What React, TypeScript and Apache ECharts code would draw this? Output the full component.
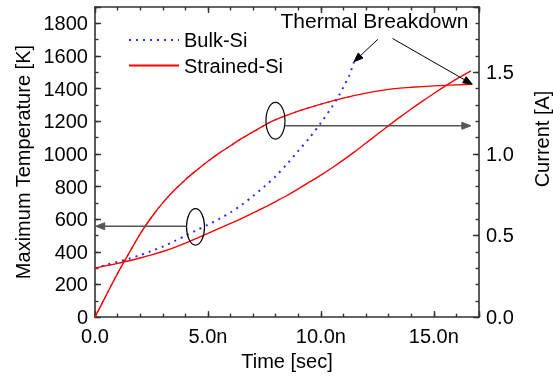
import React, { useEffect, useRef } from 'react';
import * as echarts from 'echarts';

// ---- axes ----
const timeMax = 17; // ns
const tempMax = 1900; // K
const currentMax = 1.9; // A
const xTickValues = [0, 5, 10, 15];
const xTickLabels = ['0.0', '5.0n', '10.0n', '15.0n'];
const tempTickValues = [0, 200, 400, 600, 800, 1000, 1200, 1400, 1600, 1800];
const currentTickValues = [0, 0.5, 1.0, 1.5];
const currentTickLabels = ['0.0', '0.5', '1.0', '1.5'];

// ---- data (time in ns) ----
const bulkTempTime = [0, 0.5, 1.0, 1.5, 2.0, 2.5, 3.0, 3.5, 4.0, 4.5, 5.0, 5.5, 6.0, 6.5, 7.0, 7.5, 8.0, 8.5, 9.0, 9.5, 10.0, 10.5, 10.8, 11.0, 11.25, 11.47];
const bulkTemp = [300, 320, 338, 358, 380, 405, 432, 464, 498, 532, 566, 602, 641, 688, 742, 800, 864, 938, 1018, 1099, 1190, 1290, 1358, 1410, 1480, 1565];

const strainedTempTime = [0, 0.25, 0.5, 1.0, 1.5, 2.0, 2.5, 3.0, 3.5, 4.0, 4.5, 5.0, 5.5, 6.0, 6.5, 7.0, 7.5, 8.0, 8.5, 9.0, 9.5, 10.0, 10.5, 11.0, 11.5, 12.0, 12.5, 13.0, 13.5, 14.0, 14.5, 15.0, 15.5, 16.0, 16.64];
const strainedTemp = [298, 308, 315, 329, 345, 362, 381, 402, 426, 453, 483, 513, 544, 574, 605, 638, 672, 708, 745, 786, 828, 870, 915, 963, 1014, 1067, 1120, 1173, 1225, 1275, 1323, 1370, 1415, 1458, 1509];

const strainedCurrentTime = [0, 0.5, 1.0, 1.5, 2.0, 2.5, 3.0, 3.5, 4.0, 4.5, 5.0, 5.5, 6.0, 6.5, 7.0, 7.5, 8.0, 9.0, 10.0, 11.0, 12.0, 13.0, 14.0, 15.0, 16.7];
const strainedCurrent = [0, 0.135, 0.268, 0.39, 0.51, 0.612, 0.7, 0.775, 0.842, 0.9, 0.955, 1.005, 1.05, 1.095, 1.135, 1.175, 1.21, 1.262, 1.305, 1.342, 1.372, 1.395, 1.408, 1.417, 1.427];

const bulkCurrentTime = [0, 0.5, 1.0, 1.5, 2.0, 2.5, 3.0, 3.5, 4.0, 4.5, 5.0, 5.5, 6.0, 6.5, 7.0, 7.5, 8.0, 9.0, 10.0, 11.0, 11.4];
const bulkCurrent = [0, 0.135, 0.268, 0.39, 0.51, 0.612, 0.7, 0.775, 0.842, 0.9, 0.955, 1.005, 1.05, 1.095, 1.135, 1.175, 1.21, 1.262, 1.305, 1.342, 1.355];

const FONT = "'Liberation Sans', Arial, Helvetica, sans-serif";
const AXIS = '#333333';
const BLUE = '#2a2aff';
const RED = '#ff0000';

const pairs = (xs: number[], ys: number[]) => xs.map((x, i) => [x, ys[i]]);
const near = (a: number, b: number) => Math.abs(a - b) < 1e-6;

function axisBase(min: number, max: number, interval: number, position: string, tickLen: number, showLine: boolean) {
  return {
    type: 'value',
    min,
    max,
    interval,
    position,
    axisLine: { show: showLine, onZero: false, lineStyle: { color: AXIS, width: 1.6 } },
    axisTick: { show: true, inside: true, length: tickLen, lineStyle: { color: AXIS, width: 1.4 } },
    axisLabel: { show: false },
    splitLine: { show: false },
  } as any;
}

export default function App() {
  const ref = useRef<HTMLDivElement>(null);
  useEffect(() => {
    if (!ref.current) return;
    const chart = echarts.init(ref.current, undefined, { renderer: 'svg' });
    const labelStyle = { fontSize: 20, color: '#000', fontFamily: FONT };

    const xMajor = axisBase(0, timeMax, 5, 'bottom', 6, true);
    xMajor.axisLabel = {
      show: true,
      ...labelStyle,
      margin: 9,
      formatter: (v: number) => {
        const i = xTickValues.findIndex((t) => near(t, v));
        return i >= 0 ? xTickLabels[i] : '';
      },
    };
    xMajor.name = 'Time [sec]';
    xMajor.nameLocation = 'middle';
    xMajor.nameGap = 31;
    xMajor.nameTextStyle = { ...labelStyle };

    const yLeft = axisBase(0, tempMax, 200, 'left', 6, true);
    yLeft.axisLabel = {
      show: true,
      ...labelStyle,
      margin: 7,
      formatter: (v: number) => (tempTickValues.some((t) => near(t, v)) ? String(v) : ''),
    };
    yLeft.name = 'Maximum Temperature [K]';
    yLeft.nameLocation = 'middle';
    yLeft.nameGap = 62;
    yLeft.nameTextStyle = { ...labelStyle };

    const yRight = axisBase(0, currentMax, 0.5, 'right', 6, true);
    yRight.axisLabel = {
      show: true,
      ...labelStyle,
      margin: 7,
      formatter: (v: number) => {
        const i = currentTickValues.findIndex((t) => near(t, v));
        return i >= 0 ? currentTickLabels[i] : '';
      },
    };

    const lineSeries = (name: string, yIdx: number, data: number[][], color: string, dotted: boolean, width: number) => ({
      name,
      type: 'line',
      xAxisIndex: 0,
      yAxisIndex: yIdx,
      data,
      showSymbol: false,
      symbol: 'none',
      smooth: 0.3,
      lineStyle: dotted ? { color, width, type: [2, 5] } : { color, width },
      itemStyle: { color },
    });

    const option: any = {
      animation: false,
      grid: { left: 95, right: 74, top: 7, bottom: 57 },
      legend: {
        left: 123,
        top: 25,
        orient: 'vertical',
        itemWidth: 50,
        itemHeight: 14,
        itemGap: 5.5,
        data: ['Bulk-Si', 'Strained-Si'],
        textStyle: { ...labelStyle, lineHeight: 20 },
        itemStyle: { opacity: 0 },
        selectedMode: false,
      },
      xAxis: [
        xMajor,
        axisBase(0, timeMax, 1, 'bottom', 3.5, false),
        axisBase(0, timeMax, 5, 'top', 6, true),
        axisBase(0, timeMax, 1, 'top', 3.5, false),
      ],
      yAxis: [
        yLeft,
        axisBase(0, tempMax, 100, 'left', 3.5, false),
        yRight,
        axisBase(0, currentMax, 0.1, 'right', 3.5, false),
      ],
      series: [
        lineSeries('Bulk-Si', 0, pairs(bulkTempTime, bulkTemp), BLUE, true, 2),
        lineSeries('Bulk-Si', 2, pairs(bulkCurrentTime, bulkCurrent), BLUE, true, 1.2),
        lineSeries('Strained-Si', 0, pairs(strainedTempTime, strainedTemp), RED, false, 1.4),
        lineSeries('Strained-Si', 2, pairs(strainedCurrentTime, strainedCurrent), RED, false, 1.4),
      ],
    };
    chart.setOption(option);

    // annotations, positioned in data coordinates
    const pT = (t: number, v: number) => chart.convertToPixel({ xAxisIndex: 0, yAxisIndex: 0 }, [t, v]) as number[];
    const pI = (t: number, v: number) => chart.convertToPixel({ xAxisIndex: 0, yAxisIndex: 2 }, [t, v]) as number[];

    const head = (from: number[], to: number[], len: number, half: number, color: string) => {
      const dx = to[0] - from[0];
      const dy = to[1] - from[1];
      const d = Math.hypot(dx, dy) || 1;
      const ux = dx / d;
      const uy = dy / d;
      const bx = to[0] - ux * len;
      const by = to[1] - uy * len;
      return {
        type: 'polygon',
        shape: { points: [to, [bx - uy * half, by + ux * half], [bx + uy * half, by - ux * half]] },
        style: { fill: color, stroke: color },
        z: 100,
      };
    };
    const arrow = (from: number[], to: number[], color: string, w: number, len: number, half: number) => [
      {
        type: 'line',
        shape: { x1: from[0], y1: from[1], x2: to[0] - (to[0] - from[0]) * 0.02, y2: to[1] - (to[1] - from[1]) * 0.02 },
        style: { stroke: color, lineWidth: w },
        z: 100,
      },
      head(from, to, len, half, color),
    ];

    const eC = pI(7.99, 1.203);
    const eT = pT(4.45, 553);
    const aCfrom = pI(8.41, 1.172);
    const aCto = pI(16.64, 1.172);
    const aTfrom = pT(4.05, 557);
    const aTto = pT(0.03, 557);
    const b1from = pT(12.52, 1702);
    const b1to = pT(bulkTempTime[bulkTempTime.length - 1], bulkTemp[bulkTemp.length - 1]);
    const b2from = pT(13.17, 1707);
    const b2to = pI(strainedCurrentTime[strainedCurrentTime.length - 1], strainedCurrent[strainedCurrent.length - 1]);
    const txt = pT(8.21, 1879);

    chart.setOption({
      graphic: [
        { type: 'ellipse', shape: { cx: eC[0], cy: eC[1], rx: 9.5, ry: 18.3 }, style: { fill: 'none', stroke: '#000', lineWidth: 1.2 }, z: 100 },
        { type: 'ellipse', shape: { cx: eT[0], cy: eT[1], rx: 9, ry: 18.3 }, style: { fill: 'none', stroke: '#000', lineWidth: 1.2 }, z: 100 },
        ...arrow(aCfrom, aCto, '#555', 1.6, 9, 3.5),
        ...arrow(aTfrom, aTto, '#555', 1.6, 9, 3.5),
        ...arrow(b1from, b1to, '#000', 1, 9, 3.5),
        ...arrow(b2from, b2to, '#000', 1, 9, 3.5),
        {
          type: 'text',
          x: txt[0],
          y: txt[1],
          style: { text: 'Thermal Breakdown', fontSize: 21, fontFamily: FONT, fill: '#000', textAlign: 'left', textVerticalAlign: 'top' },
          z: 100,
        },
        {
          type: 'text',
          x: 542,
          y: 139,
          rotation: Math.PI / 2,
          style: { text: 'Current [A]', fontSize: 20, fontFamily: FONT, fill: '#000', textAlign: 'center', textVerticalAlign: 'middle' },
          z: 100,
        },
      ],
    });

    return () => chart.dispose();
  }, []);
  return <div ref={ref} style={{ position: 'fixed', left: 0, top: 0, width: 553, height: 376 }} />;
}
